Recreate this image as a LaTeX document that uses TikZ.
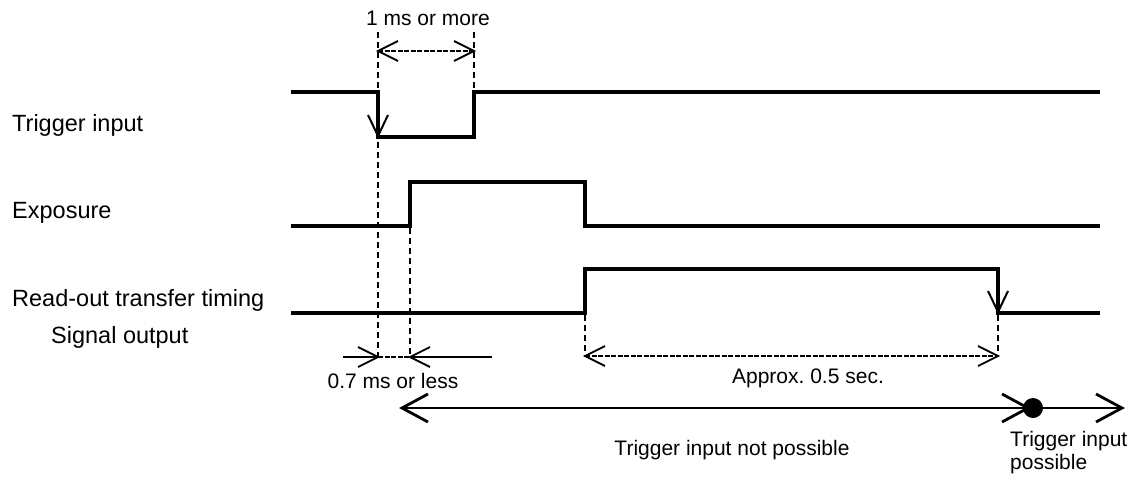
\documentclass[tikz,border=0pt]{standalone}
\usepackage{fontspec}
\setmainfont{Liberation Sans}
\frenchspacing
\begin{document}
\begin{tikzpicture}[x=1pt,y=-1pt,
  signal/.style={line width=4pt,line join=miter,line cap=butt},
  guide/.style={line width=2pt,dash pattern=on 6pt off 4pt},
  dimline/.style={line width=1.2pt,dash pattern=on 5pt off 1.5pt},
  plainline/.style={line width=1.3pt},
  bigline/.style={line width=2.6pt},
  pics/barbtip/.style args={#1/#2/#3}{code={%
    \draw[solid,line width=#3,line join=miter,line cap=butt] (-#1,#2) -- (0,0) -- (-#1,-#2);}},
  sig/.style={font=\fontsize{23.5}{26}\selectfont,anchor=base west,inner sep=0pt},
  dimtext/.style={font=\fontsize{21}{24}\selectfont,anchor=base,inner sep=0pt}]
\useasboundingbox (0,0) rectangle (1141,485);

% signal names
\node[sig] (ltrig) at (12,131) {Trigger input};
\node[sig] (lexp) at (12,218) {Exposure};
\node[sig] (lread) at (12,306) {Read-out transfer timing};
\node[sig] (lsig) at (51,343) {Signal output};

% waveforms
\draw[signal] (291,92) -- (378,92) -- (378,137) -- (474,137) -- (474,92) -- (1100,92);
\draw[signal] (291,226) -- (410,226) -- (410,182) -- (585,182) -- (585,226) -- (1100,226);
\draw[signal] (291,313) -- (585,313) -- (585,269) -- (998,269) -- (998,313) -- (1100,313);

% falling-edge tips
\pic[rotate=-90] at (378,136) {barbtip={21/10/2pt}};
\pic[rotate=-90] at (998,312) {barbtip={21/10/2pt}};

% guide lines
\draw[guide] (378,32) -- (378,357);
\draw[guide] (474,32) -- (474,92);
\draw[guide] (410,228) -- (410,357);
\draw[guide] (585,315) -- (585,356);
\draw[guide] (998,315) -- (998,356);

% 1 ms or more
\coordinate (a1) at (378,51);
\coordinate (a2) at (474,51);
\draw[dimline] (a1) -- (a2);
\pic[rotate=180] at (a1) {barbtip={20/10/1.8pt}};
\pic at (a2) {barbtip={20/10/1.8pt}};
\node[dimtext] (t1) at (428,25) {1 ms or more};

% 0.7 ms or less
\coordinate (b0) at (343,357);
\coordinate (b1) at (378,357);
\coordinate (b2) at (410,357);
\coordinate (b3) at (492,357);
\draw[plainline] (b0) -- (b1);
\draw[plainline] (b3) -- (b2);
\draw[dimline] (b1) -- (b2);
\pic at (b1) {barbtip={20/10/1.8pt}};
\pic[rotate=180] at (b2) {barbtip={20/10/1.8pt}};
\node[dimtext] (t2) at (393,388) {0.7 ms or less};

% approx. 0.5 sec
\coordinate (c1) at (585,356);
\coordinate (c2) at (998,356);
\draw[dimline] (c1) -- (c2);
\pic[rotate=180] at (c1) {barbtip={20/10/1.8pt}};
\pic at (c2) {barbtip={20/10/1.8pt}};
\node[dimtext] (t3) at (808,383) {Approx. 0.5 sec.};

% trigger acceptance
\coordinate (d1) at (402,408);
\node[circle,fill=black,minimum size=20pt,inner sep=0pt] (dot) at (1033,408) {};
\coordinate (d2) at (1122,408);
\draw[bigline] (d1) -- (dot.west);
\draw[bigline] (dot.east) -- (d2);
\pic[rotate=180] at (d1) {barbtip={26/14/2.8pt}};
\pic at ([xshift=-5pt]dot.center) {barbtip={26/14/2.8pt}};
\pic at (d2) {barbtip={26/14/2.8pt}};
\node[dimtext] (t4) at (732,455) {Trigger input not possible};
\node[font=\fontsize{21}{23}\selectfont,anchor=north west,inner sep=0pt,align=left] (t5) at (1010,431) {Trigger input\\possible};
\end{tikzpicture}
\end{document}
